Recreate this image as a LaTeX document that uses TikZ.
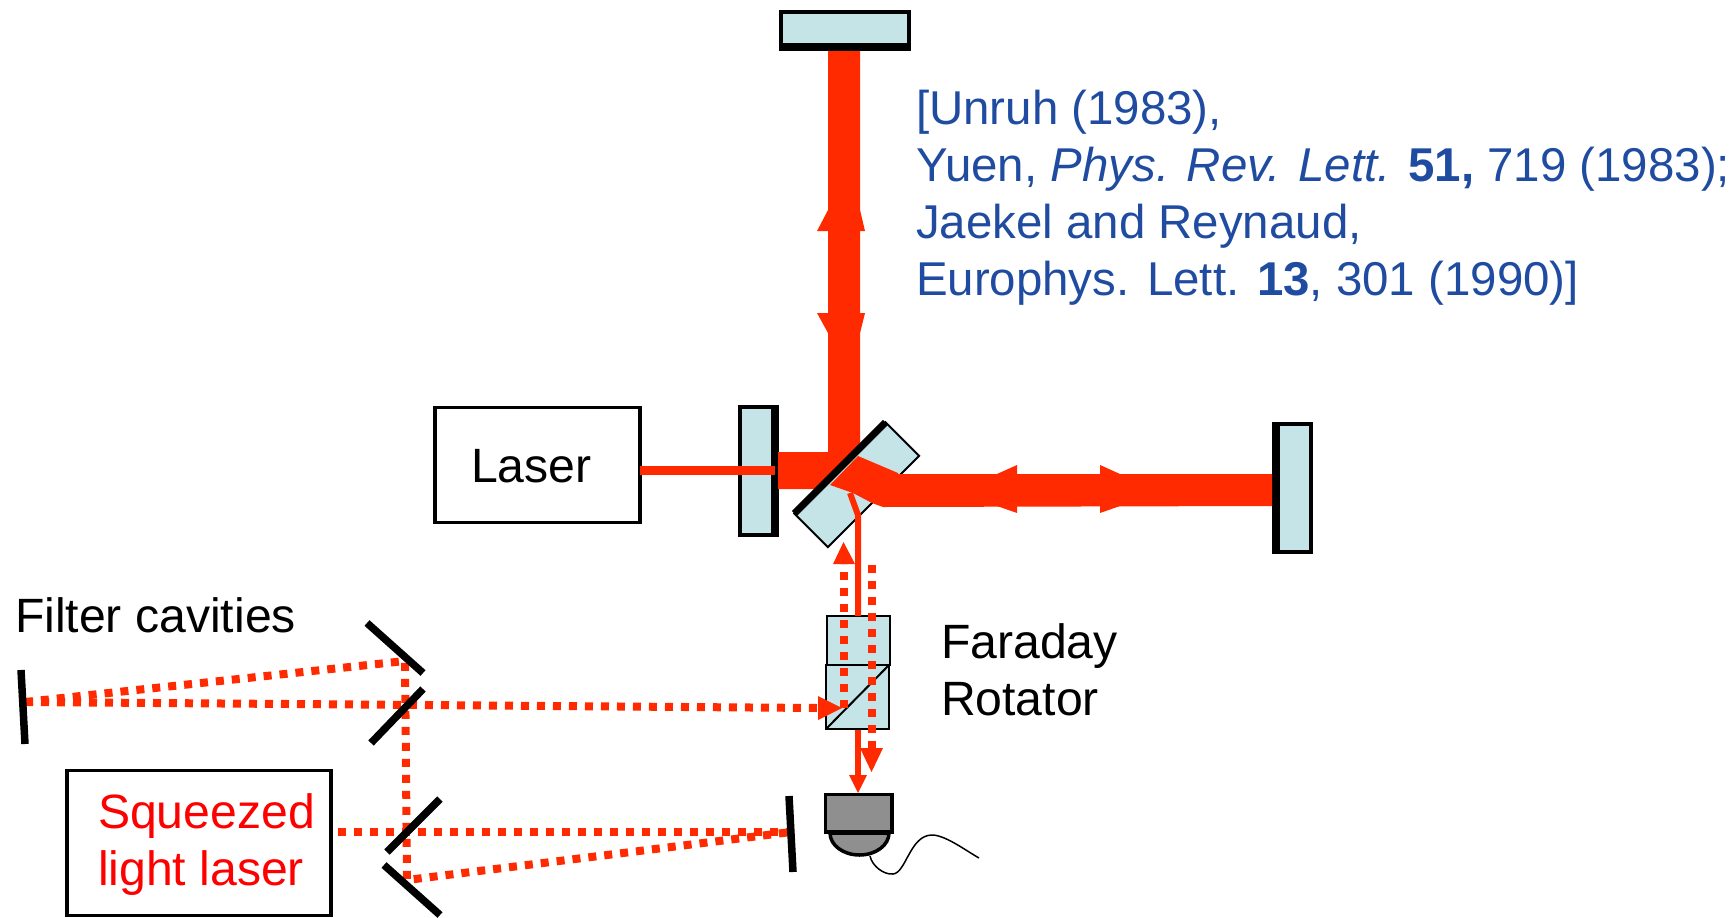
\documentclass[tikz,border=0pt]{standalone}
\usepackage{fontspec}
\setmainfont{Liberation Sans}
\usepackage{xcolor}
\usetikzlibrary{positioning}
\definecolor{beamred}{HTML}{FF2A00}
\definecolor{optic}{HTML}{C5E4E7}
\definecolor{refblue}{HTML}{1F4BA0}
\definecolor{detgray}{HTML}{8F8F8F}
\begin{document}
\begin{tikzpicture}[x=0.1mm, y=-0.1mm, >=stealth]
    \tikzstyle{caption} = [inner sep=0, outer sep=0, anchor=base west, align=left, font=\fontsize{13.7pt}{16pt}\selectfont]
    \tikzstyle{box} = [draw, line width=0.35mm, inner sep=0, outer sep=0]
    \tikzstyle{lens} = [draw=black, line width=0.4mm, fill=optic, inner sep=0, outer sep=0]
    \tikzstyle{cube} = [lens, line width=0.2mm]
    \tikzstyle{backing} = [draw=black, line width=0.75mm, shorten <=-0.2mm, shorten >=-0.2mm]
    \tikzstyle{thin beam} = [draw=beamred, line width=0.6mm]
    \tikzstyle{dots} = [draw=beamred, line width=0.8mm, dash pattern=on 0.8mm off 0.8mm]
    \tikzstyle{mirror} = [draw=black, line width=0.75mm]
    \tikzstyle{tip} = [fill=beamred]
    \clip (0,0) rectangle (1731,917);
    % boxes
    \node [box, minimum width=20.5mm, minimum height=11.5mm] at (537.5,465) (laser) {};
    \node [box, minimum width=26.4mm, minimum height=14.5mm, anchor=north west] at (67,770.5) (squeezer) {};
    % faraday rotator
    \node [cube, minimum width=6.3mm, minimum height=4.9mm] at (858.3,640.5) (rotatortop) {};
    \node [cube, minimum width=6.3mm, minimum height=6.4mm] at (857.5,697) (rotatorcube) {};
    \draw [line width=0.2mm] (rotatorcube.south west) -- (rotatorcube.north east);
    % beam splitter and end mirrors
    \node [cube, rotate=45, minimum width=12.9mm, minimum height=4.75mm] at (856.7,484.7) (splitter) {};
    \node [lens, minimum width=12.85mm, minimum height=3.5mm] at (845,29.5) (topmirror) {};
    \node [lens, minimum width=3.5mm, minimum height=12.8mm] at (757.5,471) (inputmirror) {};
    \node [lens, minimum width=3.5mm, minimum height=12.8mm] at (1293.5,488) (endmirror) {};
    \draw [backing] (topmirror.south west) -- (topmirror.south east);
    \draw [backing] (inputmirror.north east) -- (inputmirror.south east);
    \draw [backing] (endmirror.north west) -- (endmirror.south west);
    % arm beams
    \fill [beamred] (828,51) -- (860,51) -- (860,445) -- (815,489) -- (778,489) -- (778,452) -- (828,452) -- cycle;
    \fill [beamred] (858,456) -- (898,473) -- (898,474) -- (1272,474) -- (1272,506) -- (883,507) -- (872,503) -- (853,493) -- (830,485) -- cycle;
    \draw [line width=0.7mm] (splitter.north west) -- (splitter.north east);
    \fill [tip] (828,231) -- (817,231) -- (828,210) -- (860,210) -- (865,231) -- (860,231) -- cycle;
    \fill [tip] (828,313) -- (817,313) -- (828,333) -- (860,333) -- (865,313) -- (860,313) -- cycle;
    \fill [tip] (1017,474) -- (1017,465) -- (997,474) -- (997,506) -- (1017,513) -- (1017,506) -- cycle;
    \fill [tip] (1100,474) -- (1100,465) -- (1120,474) -- (1120,506) -- (1100,513) -- (1100,506) -- cycle;
    % output and laser beams
    \draw [thin beam] (850,493) -- (858,515) -- (rotatortop.north -| 858,0);
    \coordinate (inputend) at (775,470.5);
    \draw [beamred, line width=0.95mm] (laser.east |- inputend) -- (inputend);
    % squeezed beam
    \coordinate (coneleft) at (25,702);
    \coordinate (upperturn) at (405,661);
    \coordinate (lowerturn) at (407,880);
    \coordinate (farmirror) at (791,832);
    \coordinate (rotatorin) at (818,708);
    \draw [dots] (coneleft) -- (upperturn) -- (lowerturn) -- (farmirror);
    \draw [dots] (coneleft) -- (rotatorin);
    \draw [dots] (338,832) -- (farmirror);
    \fill [tip] (818,696) -- (842,708) -- (818,720) -- cycle;
    \coordinate (upbase) at (844,564);
    \coordinate (downbase) at (871.5,748);
    \draw [dots] (844,708) -- (upbase);
    \draw [dots] (871.5,565) -- (downbase);
    \fill [tip] (833,564) -- (843.5,542) -- (855,564) -- cycle;
    \fill [tip] (860,748) -- (871.5,772) -- (883,748) -- cycle;
    \draw [thin beam] (858,730) -- (858,776);
    \fill [tip] (849,775) -- (858,793) -- (867,775) -- cycle;
    % filter cavity mirrors
    \draw [mirror] (21,670) -- (25,744);
    \draw [mirror] (367,623) -- (423,673);
    \draw [mirror] (423,689) -- (371,743);
    \draw [mirror] (440,799) -- (387,852);
    \draw [mirror] (384,865) -- (440,915);
    \draw [mirror] (789,796) -- (793,872);
    % detector
    \draw [draw=black, line width=0.35mm, fill=detgray] (830,833) arc[start angle=180, end angle=0, x radius=29.5, y radius=22] -- cycle;
    \node [box, fill=detgray, minimum width=6.65mm, minimum height=3.75mm] at (858.8,813.2) (detector) {};
    \draw [line width=0.15mm] (870,856) .. controls (872,866) and (884,875) .. (893,874) .. controls (906,873) and (910,835) .. (932,835) .. controls (945,835) and (965,850) .. (979,858);
    % text
    \node [caption] at (471,482) (lasertext) {Laser};
    \node [caption] at (15,632) (filtertext) {Filter cavities};
    \node [caption, text=red] at (98,885) (squeezedtext) {Squeezed\\light laser};
    \node [caption] at (941,715) (rotatortext) {Faraday\\Rotator};
    \node [caption, text=refblue, font=\fontsize{13.5pt}{16.2pt}\selectfont] at (916,295) (citation) {[Unruh (1983),\\Yuen, \textit{Phys. Rev. Lett.} \textbf{51,} 719 (1983);\\Jaekel and Reynaud,\\Europhys. Lett. \textbf{13}, 301 (1990)]};
\end{tikzpicture}
\end{document}
